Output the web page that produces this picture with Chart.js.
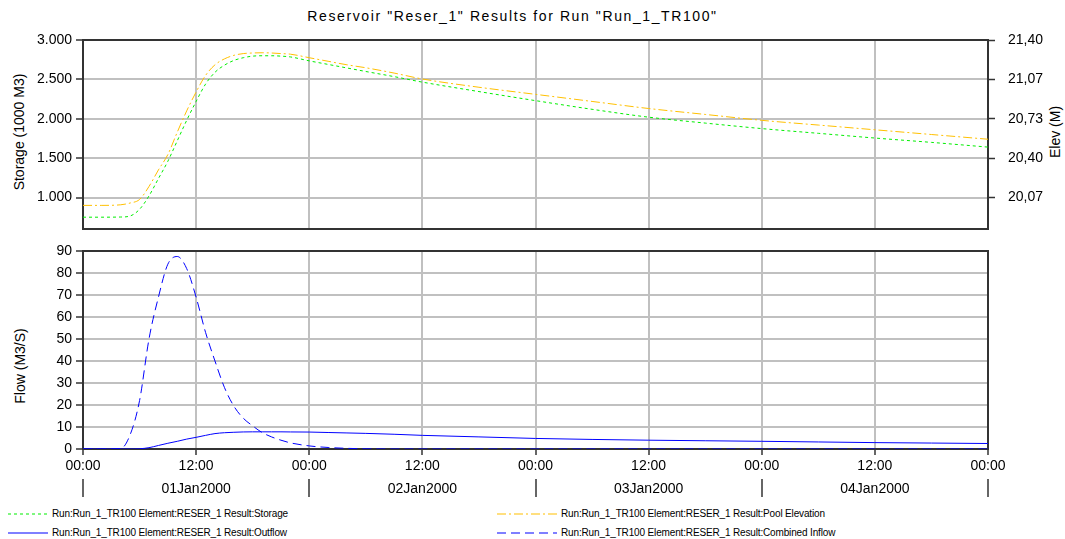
<!DOCTYPE html>
<html>
<head>
<meta charset="utf-8">
<script src="https://cdn.jsdelivr.net/npm/chart.js@4"></script>
<style>
  body { margin: 0; background: #fff; font-family: "Liberation Sans", Arial, sans-serif; }
  #wrap { position: relative; width: 1065px; height: 539px; overflow: hidden; }
  canvas { position: absolute; left: 0; }
  .txt { position: absolute; white-space: nowrap; color: #000; }
  .vt { transform: translate(-50%, -50%) rotate(-90deg); font-size: 14px; }
  .leg { position: absolute; height: 14px; font-size: 10px; letter-spacing: -0.15px; white-space: nowrap; }
  .leg svg { position: absolute; top: 5px; }
  .leg span { position: absolute; top: 0; line-height: 14px; }
</style>
</head>
<body>
<div id="wrap">
  <div class="txt" style="left:0;width:1025px;top:8px;text-align:center;font-size:14px;letter-spacing:1.6px">Reservoir "Reser_1" Results for Run "Run_1_TR100"</div>
  <div class="txt vt" style="left:19px;top:132px">Storage (1000 M3)</div>
  <div class="txt vt" style="left:1055px;top:132px">Elev (M)</div>
  <div class="txt vt" style="left:20px;top:366px">Flow (M3/S)</div>
  <canvas id="topChart" width="1065" height="205" style="top:30px"></canvas>
  <canvas id="flowChart" width="1065" height="265" style="top:240px"></canvas>
  <div id="legend"></div>
</div>
<script>
// time axis in hours from 01Jan2000 00:00
const hours    = [0, 2, 4, 5, 6, 7, 8, 9, 10, 11, 12, 13, 14, 15, 16, 17, 18, 19, 20, 21, 22, 24, 26, 28, 30, 33, 36, 42, 48, 54, 60, 66, 72, 78, 84, 90, 96];
const storage  = [750, 750, 752, 765, 850, 1020, 1240, 1460, 1720, 1980, 2220, 2440, 2590, 2680, 2740, 2775, 2795, 2800, 2800, 2795, 2785, 2735, 2690, 2645, 2600, 2535, 2465, 2345, 2230, 2120, 2020, 1945, 1875, 1815, 1755, 1700, 1640];
const poolElev = [20.00, 20.00, 20.005, 20.02, 20.05, 20.16, 20.30, 20.43, 20.62, 20.80, 20.96, 21.10, 21.19, 21.24, 21.27, 21.285, 21.29, 21.292, 21.29, 21.285, 21.28, 21.25, 21.22, 21.19, 21.165, 21.12, 21.07, 21.00, 20.94, 20.88, 20.82, 20.77, 20.72, 20.68, 20.64, 20.60, 20.56];
const outflow  = [0, 0, 0, 0, 0.1, 0.6, 1.6, 2.6, 3.5, 4.5, 5.3, 6.2, 7.0, 7.4, 7.6, 7.75, 7.8, 7.8, 7.8, 7.8, 7.75, 7.7, 7.5, 7.3, 7.1, 6.7, 6.2, 5.5, 4.8, 4.35, 4.0, 3.75, 3.5, 3.2, 2.9, 2.7, 2.5];
const inflow   = [0, 0, 0.2, 6.5, 22, 50, 69, 84, 87.5, 82, 69, 53, 40, 28, 19.5, 14, 10.5, 7.5, 5.5, 4, 2.8, 1.4, 0.7, 0.3, 0.1, 0, 0, 0, 0, 0, 0, 0, 0, 0, 0, 0, 0];

const hourTicks    = [0, 12, 24, 36, 48, 60, 72, 84, 96];
const hourLabels   = ['00:00', '12:00', '00:00', '12:00', '00:00', '12:00', '00:00', '12:00', '00:00'];
const dayLabels    = ['01Jan2000', '02Jan2000', '03Jan2000', '04Jan2000'];
const dayStarts    = [0, 24, 48, 72, 96];
const storageTicks = [1000, 1500, 2000, 2500, 3000];
const elevTicks    = [20.0667, 20.4, 20.7333, 21.0667, 21.4];
const flowTicks    = [0, 10, 20, 30, 40, 50, 60, 70, 80, 90];

const seriesNames = [
  'Run:Run_1_TR100 Element:RESER_1 Result:Storage',
  'Run:Run_1_TR100 Element:RESER_1 Result:Pool Elevation',
  'Run:Run_1_TR100 Element:RESER_1 Result:Outflow',
  'Run:Run_1_TR100 Element:RESER_1 Result:Combined Inflow'
];

const GRID = '#c0c0c0';
const AXIS = '#333333';
const FONT = { family: '"Liberation Sans", Arial, sans-serif', size: 14 };

const pts = arr => hours.map((h, i) => ({ x: h, y: arr[i] }));
const fixTicks = list => scale => { scale.ticks = list.map(v => ({ value: v })); };
// fixed axis width, no extra label padding so the plot area stays where the layout puts it
const fitY = w => s => { s.width = w; s.paddingTop = 0; s.paddingBottom = 0; };

// dark frame round each plot area
const framePlugin = {
  id: 'frame',
  beforeDatasetsDraw(chart) {
    const { ctx, chartArea: a } = chart;
    ctx.save();
    ctx.strokeStyle = AXIS;
    ctx.lineWidth = 2;
    ctx.strokeRect(a.left, a.top, a.right - a.left, a.bottom - a.top);
    ctx.restore();
  }
};

// day separator marks under the time labels
const dayMarks = {
  id: 'dayMarks',
  afterDraw(chart) {
    const { ctx } = chart;
    const x = chart.scales.x;
    ctx.save();
    ctx.strokeStyle = AXIS;
    ctx.lineWidth = 1.5;
    dayStarts.forEach(d => {
      const px = Math.round(x.getPixelForValue(d));
      ctx.beginPath();
      ctx.moveTo(px, 239);
      ctx.lineTo(px, 257);
      ctx.stroke();
    });
    ctx.restore();
  }
};

const lineDefaults = { pointRadius: 0, borderWidth: 1, fill: false, cubicInterpolationMode: 'monotone' };

const datasetsTop = [
  Object.assign({ label: seriesNames[0], data: pts(storage), yAxisID: 'yS', borderColor: '#00ee00', borderDash: [3, 3] }, lineDefaults),
  Object.assign({ label: seriesNames[1], data: pts(poolElev), yAxisID: 'yE', borderColor: '#ffc000', borderDash: [9, 3, 2, 3] }, lineDefaults)
];
const datasetsFlow = [
  Object.assign({ label: seriesNames[2], data: pts(outflow), borderColor: '#0000ff' }, lineDefaults),
  Object.assign({ label: seriesNames[3], data: pts(inflow), borderColor: '#0000ff', borderDash: [9, 5] }, lineDefaults)
];

new Chart(document.getElementById('topChart'), {
  type: 'line',
  data: { datasets: datasetsTop },
  plugins: [framePlugin],
  options: {
    responsive: false,
    animation: false,
    layout: { padding: { top: 10, bottom: 6, left: 0, right: 0 } },
    plugins: { legend: { display: false }, tooltip: { enabled: false } },
    scales: {
      x: {
        type: 'linear', min: 0, max: 96,
        afterBuildTicks: fixTicks(hourTicks),
        ticks: { display: false },
        grid: { color: GRID, lineWidth: 2, drawTicks: false },
        border: { display: false },
        afterFit: s => { s.height = 0; }
      },
      yS: {
        position: 'left', min: 600, max: 3000,
        afterBuildTicks: fixTicks(storageTicks),
        ticks: {
          color: '#000', font: FONT, padding: 4,
          callback: v => Math.floor(v / 1000) + '.' + String(v % 1000).padStart(3, '0')
        },
        grid: { color: GRID, lineWidth: 2, tickColor: AXIS, tickLength: 7, tickWidth: 1.5 },
        border: { display: false },
        afterFit: fitY(83)
      },
      yE: {
        position: 'right', min: 19.8, max: 21.4,
        afterBuildTicks: fixTicks(elevTicks),
        ticks: {
          color: '#000', font: FONT, padding: 13,
          callback: v => v.toFixed(2).replace('.', ',')
        },
        grid: { drawOnChartArea: false, tickColor: AXIS, tickLength: 7, tickWidth: 1.5 },
        border: { display: false },
        afterFit: fitY(77)
      }
    }
  }
});

new Chart(document.getElementById('flowChart'), {
  type: 'line',
  data: { datasets: datasetsFlow },
  plugins: [framePlugin, dayMarks],
  options: {
    responsive: false,
    animation: false,
    layout: { padding: { top: 11, bottom: 6, left: 0, right: 77 } },
    plugins: { legend: { display: false }, tooltip: { enabled: false } },
    scales: {
      x: {
        type: 'linear', min: 0, max: 96,
        afterBuildTicks: fixTicks(hourTicks),
        ticks: {
          color: '#000', font: Object.assign({}, FONT, { lineHeight: 23 / 14 }), padding: 0,
          maxRotation: 0, autoSkip: false,
          callback: (v, i) => [hourLabels[i], v % 24 === 12 ? dayLabels[Math.floor(v / 24)] : '']
        },
        grid: { color: GRID, lineWidth: 2, tickColor: AXIS, tickLength: 6, tickWidth: 1.5 },
        border: { display: false },
        afterFit: s => { s.height = 50; }
      },
      y: {
        position: 'left', min: 0, max: 90,
        afterBuildTicks: fixTicks(flowTicks),
        ticks: { color: '#000', font: FONT, padding: 4 },
        grid: { color: GRID, lineWidth: 2, tickColor: AXIS, tickLength: 7, tickWidth: 1.5 },
        border: { display: false },
        afterFit: fitY(83)
      }
    }
  }
});

// legend in two columns below the plots
const legendSpots = [
  { ds: datasetsTop[0],  left: 8,   top: 507, w: 40 },
  { ds: datasetsTop[1],  left: 497, top: 507, w: 60 },
  { ds: datasetsFlow[0], left: 8,   top: 526, w: 40 },
  { ds: datasetsFlow[1], left: 497, top: 526, w: 60 }
];
const legendBox = document.getElementById('legend');
legendSpots.forEach(s => {
  const d = document.createElement('div');
  d.className = 'leg';
  d.style.left = s.left + 'px';
  d.style.top = s.top + 'px';
  const dash = s.ds.borderDash ? s.ds.borderDash.join(',') : 'none';
  d.innerHTML = '<svg width="' + s.w + '" height="4"><line x1="0" y1="2" x2="' + s.w + '" y2="2" stroke="' +
    s.ds.borderColor + '" stroke-width="1.2" stroke-dasharray="' + dash + '"/></svg>' +
    '<span style="left:' + (s.w + 4) + 'px"></span>';
  d.querySelector('span').textContent = s.ds.label;
  legendBox.appendChild(d);
});
</script>
</body>
</html>
